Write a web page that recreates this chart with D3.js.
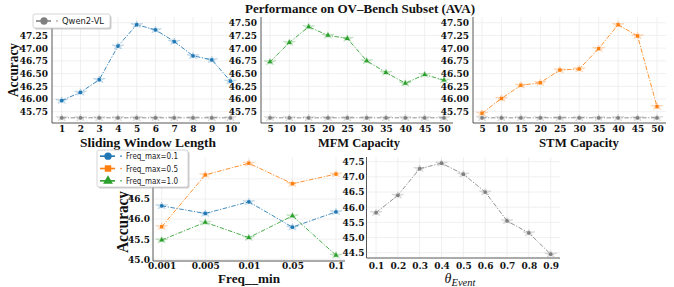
<!DOCTYPE html>
<html><head><meta charset="utf-8">
<script src="https://cdn.jsdelivr.net/npm/d3@7"></script>
<style>body{margin:0;background:#fff}svg{display:block}</style>
</head><body>
<svg id="c" width="674" height="287"></svg>
<script>
// ---- data ----
const windowLengths = [1,2,3,4,5,6,7,8,9,10];
const windowAcc = [45.97,46.13,46.38,47.04,47.46,47.36,47.13,46.85,46.77,46.35];
const mfmCapacity = [5,10,15,20,25,30,35,40,45,50];
const mfmAcc = [46.73,47.11,47.42,47.25,47.19,46.75,46.52,46.31,46.48,46.37];
const stmCapacity = [5,10,15,20,25,30,35,40,45,50];
const stmAcc = [45.72,46.01,46.27,46.32,46.57,46.59,46.99,47.46,47.24,45.85];
const qwenBaseline = 45.63;
const topYTicks = [45.75,46.00,46.25,46.50,46.75,47.00,47.25,47.50];
const panel1YTicks = [45.75,46.00,46.25,46.50,46.75,47.00,47.25];
const freqMin = ["0.001","0.005","0.01","0.05","0.1"];
const freqMax01 = [46.33,46.14,46.43,45.80,46.18];
const freqMax05 = [45.81,47.10,47.39,46.88,47.12];
const freqMax10 = [45.48,45.92,45.54,46.08,45.10];
const freqYTicks = [45.0,45.5,46.0,46.5];
const thetaEvent = [0.1,0.2,0.3,0.4,0.5,0.6,0.7,0.8,0.9];
const thetaAcc = [45.82,46.39,47.27,47.45,47.09,46.50,45.55,45.15,44.45];
const thetaYTicks = [44.5,45.0,45.5,46.0,46.5,47.0,47.5];

const C = {blue:"#1f77b4", orange:"#ff7f0e", green:"#2ca02c", gray:"#7f7f7f"};
const svg = d3.select("#c");
const SERIF = "'Liberation Serif','Times New Roman',serif";
const TICKF = "'DejaVu Serif',serif";
const SANS = "'DejaVu Sans',sans-serif";
const DASH = "4.5,1.6,1.2,1.6";

function markerPath(shape, size){
  const t = shape==="circle"?d3.symbolCircle:shape==="square"?d3.symbolSquare:d3.symbolTriangle;
  return d3.symbol(t, size)();
}

function panel(o){
  const g = svg.append("g");
  const gridY = o.gridY || o.yTicks;
  g.selectAll(".gx").data(o.xTicks).join("line")
    .attr("x1",d=>o.x(d)).attr("x2",d=>o.x(d))
    .attr("y1",o.top).attr("y2",o.bottom)
    .attr("stroke","#ececec").attr("stroke-width",0.8);
  g.selectAll(".gy").data(gridY).join("line")
    .attr("x1",o.left).attr("x2",o.right)
    .attr("y1",d=>o.y(d)).attr("y2",d=>o.y(d))
    .attr("stroke","#ececec").attr("stroke-width",0.8);
  const xa = d3.axisBottom(o.x).tickValues(o.xTicks).tickSize(0).tickPadding(o.padX)
    .tickFormat(o.xFmt||(d=>d));
  const gx = g.append("g").attr("transform",`translate(0,${o.bottom})`).call(xa);
  gx.select(".domain").remove();
  gx.selectAll("text").attr("font-family",TICKF).attr("font-weight","bold")
    .attr("font-size",9).attr("fill","#111");
  const ya = d3.axisLeft(o.y).tickValues(o.yTicks).tickSize(0).tickPadding(o.padY)
    .tickFormat(o.yFmt);
  const gy = g.append("g").attr("transform",`translate(${o.left},0)`).call(ya);
  gy.select(".domain").remove();
  gy.selectAll("text").attr("font-family",TICKF).attr("font-weight","bold")
    .attr("font-size",9).attr("fill","#111");
  g.append("line").attr("x1",o.left).attr("x2",o.right).attr("y1",o.bottom).attr("y2",o.bottom)
    .attr("stroke","#444").attr("stroke-width",0.9);
  g.append("line").attr("x1",o.left).attr("x2",o.left).attr("y1",o.top).attr("y2",o.bottom)
    .attr("stroke","#444").attr("stroke-width",0.9);
  o.series.forEach(s=>{
    const pts = s.xs.map((xv,i)=>[o.x(xv), o.y(s.ys[i])]);
    g.append("path").attr("d",d3.line()(pts)).attr("fill","none")
      .attr("stroke",s.color).attr("stroke-width",1).attr("stroke-opacity",0.85)
      .attr("stroke-dasharray",DASH);
    pts.forEach(p=>{
      g.append("path").attr("d",d3.symbol(d3.symbolStar,26)())
        .attr("transform",`translate(${p[0]},${p[1]}) scale(1.3,0.75)`)
        .attr("fill",s.color).attr("fill-opacity",0.15)
        .attr("stroke",s.color).attr("stroke-opacity",0.3).attr("stroke-width",0.6);
      g.append("path").attr("d",markerPath(s.shape,11))
        .attr("transform",`translate(${p[0]},${p[1]})`).attr("fill",s.color);
    });
  });
  if(o.xLabel){
    g.append("text").attr("x",o.xLabel.x).attr("y",o.xLabel.y).attr("text-anchor","middle")
      .attr("font-family",SERIF).attr("font-weight","bold").attr("font-size",o.xLabel.size||15)
      .attr("textLength",o.xLabel.w).attr("lengthAdjust","spacingAndGlyphs")
      .attr("fill","#111").text(o.xLabel.t);
  }
  if(o.yLabel){
    g.append("text").attr("transform",`translate(${o.yLabel.x},${o.yLabel.y}) rotate(-90)`)
      .attr("text-anchor","middle")
      .attr("font-family",SERIF).attr("font-weight","bold").attr("font-size",o.yLabel.size||15)
      .attr("textLength",o.yLabel.w).attr("lengthAdjust","spacingAndGlyphs")
      .attr("fill","#111").text(o.yLabel.t);
  }
  return g;
}

const topY = d3.scaleLinear().domain([45.75,47.5]).range([111.7,22.7]);
const fmt2 = d3.format(".2f"), fmt1 = d3.format(".1f");

// Panel 1
const x1 = d3.scaleLinear().domain([1,10]).range([61.7,230.5]);
panel({x:x1,y:topY,left:52,right:240,top:17,bottom:123,padX:3,padY:4,
  xTicks:windowLengths,yTicks:panel1YTicks,gridY:topYTicks,yFmt:fmt2,
  series:[{xs:windowLengths,ys:windowLengths.map(()=>qwenBaseline),color:C.gray,shape:"circle"},
          {xs:windowLengths,ys:windowAcc,color:C.blue,shape:"circle"}],
  xLabel:{x:148,y:146.5,t:"Sliding Window Length",w:136,size:13.5},
  yLabel:{x:17.5,y:70,t:"Accuracy",w:54,size:15}});

// Panel 2
const x2 = d3.scaleLinear().domain([5,50]).range([270,444]);
panel({x:x2,y:topY,left:261,right:453,top:17,bottom:123,padX:3,padY:4,
  xTicks:mfmCapacity,yTicks:topYTicks,yFmt:fmt2,
  series:[{xs:mfmCapacity,ys:mfmCapacity.map(()=>qwenBaseline),color:C.gray,shape:"circle"},
          {xs:mfmCapacity,ys:mfmAcc,color:C.green,shape:"triangle"}],
  xLabel:{x:359,y:146.5,t:"MFM Capacity",w:82,size:13.5}});

// Panel 3
const x3 = d3.scaleLinear().domain([5,50]).range([482,657]);
panel({x:x3,y:topY,left:473,right:666,top:17,bottom:123,padX:3,padY:4,
  xTicks:stmCapacity,yTicks:topYTicks,yFmt:fmt2,
  series:[{xs:stmCapacity,ys:stmCapacity.map(()=>qwenBaseline),color:C.gray,shape:"circle"},
          {xs:stmCapacity,ys:stmAcc,color:C.orange,shape:"square"}],
  xLabel:{x:579,y:146.5,t:"STM Capacity",w:80,size:13.5}});

// Panel 4
const x4 = d3.scalePoint().domain(freqMin).range([161.7,336]);
const y4 = d3.scaleLinear().domain([45,46.5]).range([259.3,199]);
panel({x:x4,y:y4,left:153,right:345,top:157,bottom:261,padX:1.6,padY:3,
  xTicks:freqMin,yTicks:freqYTicks,gridY:[45.0,45.5,46.0,46.5,47.0],yFmt:fmt1,
  series:[{xs:freqMin,ys:freqMax01,color:C.blue,shape:"circle"},
          {xs:freqMin,ys:freqMax05,color:C.orange,shape:"square"},
          {xs:freqMin,ys:freqMax10,color:C.green,shape:"triangle"}],
  xLabel:{x:249,y:282.5,t:"Freq__min",w:62,size:13},
  yLabel:{x:128,y:222,t:"Accuracy",w:62,size:16}});

// Panel 5
const x5 = d3.scaleLinear().domain([0.1,0.9]).range([376,550.7]);
const y5 = d3.scaleLinear().domain([44.5,47.5]).range([252.7,161.7]);
panel({x:x5,y:y5,left:366.5,right:560,top:157,bottom:258,padX:4.6,padY:2,
  xTicks:thetaEvent,yTicks:thetaYTicks,yFmt:fmt1,xFmt:d3.format(".1f"),
  series:[{xs:thetaEvent,ys:thetaAcc,color:C.gray,shape:"circle"}]});
const th = svg.append("text").attr("x",460).attr("y",283).attr("text-anchor","middle")
  .attr("font-family",SERIF).attr("font-style","italic").attr("fill","#111");
th.append("tspan").attr("font-size",14).text("θ");
th.append("tspan").attr("font-size",10.5).attr("dy",3).text("Event");

// Title
svg.append("text").attr("x",360).attr("y",13).attr("text-anchor","middle")
  .attr("font-family",SERIF).attr("font-weight","bold").attr("font-size",13)
  .attr("textLength",230).attr("lengthAdjust","spacingAndGlyphs")
  .attr("fill","#111").text("Performance on OV–Bench Subset (AVA)");

// Legends
function legend(x,y,w,h,items,fs,tw){
  const g = svg.append("g");
  g.append("rect").attr("x",x+1.5).attr("y",y+1.5).attr("width",w).attr("height",h).attr("rx",2)
    .attr("fill","#aaa").attr("opacity",0.6);
  g.append("rect").attr("x",x).attr("y",y).attr("width",w).attr("height",h).attr("rx",2)
    .attr("fill","#fff").attr("stroke","#ccc").attr("stroke-width",0.8);
  const rh = h/items.length;
  items.forEach((it,i)=>{
    const cy = y + rh*(i+0.5);
    g.append("line").attr("x1",x+3).attr("x2",x+18).attr("y1",cy).attr("y2",cy)
      .attr("stroke",it.color).attr("stroke-width",1.6);
    g.append("circle").attr("cx",x+24).attr("cy",cy).attr("r",0.8).attr("fill",it.color);
    g.append("path").attr("d",markerPath(it.shape,42)).attr("transform",`translate(${x+11},${cy})`)
      .attr("fill",it.color);
    g.append("text").attr("x",x+29).attr("y",cy+3).attr("font-family",SANS).attr("font-size",fs)
      .attr("textLength",tw).attr("lengthAdjust","spacingAndGlyphs")
      .attr("fill","#222").text(it.label);
  });
}
legend(33,14,77,14,[{label:"Qwen2-VL",color:C.gray,shape:"circle"}],8.5,42);
legend(97,150,91,37,[{label:"Freq_max=0.1",color:C.blue,shape:"circle"},
  {label:"Freq_max=0.5",color:C.orange,shape:"square"},
  {label:"Freq_max=1.0",color:C.green,shape:"triangle"}],8,52);
</script>
</body></html>
